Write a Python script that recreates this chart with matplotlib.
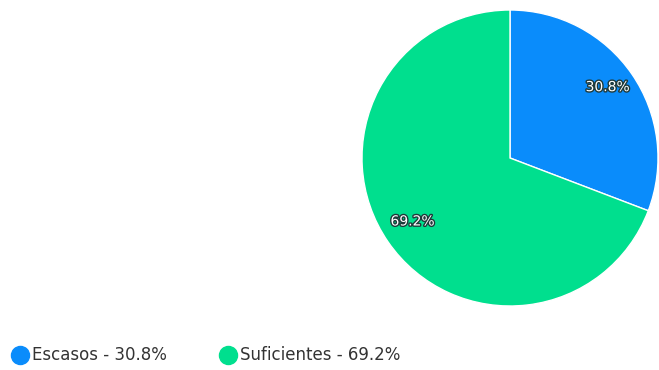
import matplotlib.pyplot as plt
import matplotlib.patheffects as pe
from matplotlib.lines import Line2D

labels = ["Escasos", "Suficientes"]
values = [30.8, 69.2]
colors = ["#0a8cfb", "#00df8e"]

fig = plt.figure(figsize=(6.59, 3.70), dpi=100)

# pie axes, placed to match the reference
ax = fig.add_axes([362 / 659, 64 / 370, 296 / 659, 296 / 370])
wedges, texts, autotexts = ax.pie(
    values, colors=colors, startangle=90, counterclock=False,
    autopct="%.1f%%", pctdistance=0.8,
    wedgeprops=dict(edgecolor="white", linewidth=1),
    textprops=dict(color="white", fontsize=10))
for t in autotexts:
    t.set_path_effects([pe.withStroke(linewidth=2, foreground="#1f3a3a")])
    x, y = t.get_position()
    t.set_position((x, y + 0.025))
ax.set_xlim(-1, 1)
ax.set_ylim(-1, 1)
ax.set_aspect("equal")

# legend along the bottom
leg_x = [20, 228]
for i in range(len(labels)):
    x = leg_x[i] / 659
    y = 1 - 355 / 370
    fig.add_artist(Line2D([x], [y], marker="o", markersize=13, color=colors[i],
                          linestyle="none", transform=fig.transFigure))
    fig.text(x + 12 / 659, y, "%s - %.1f%%" % (labels[i], values[i]),
             fontsize=12, color="#333333", va="center", ha="left")

fig.savefig("out.png", dpi=100)
